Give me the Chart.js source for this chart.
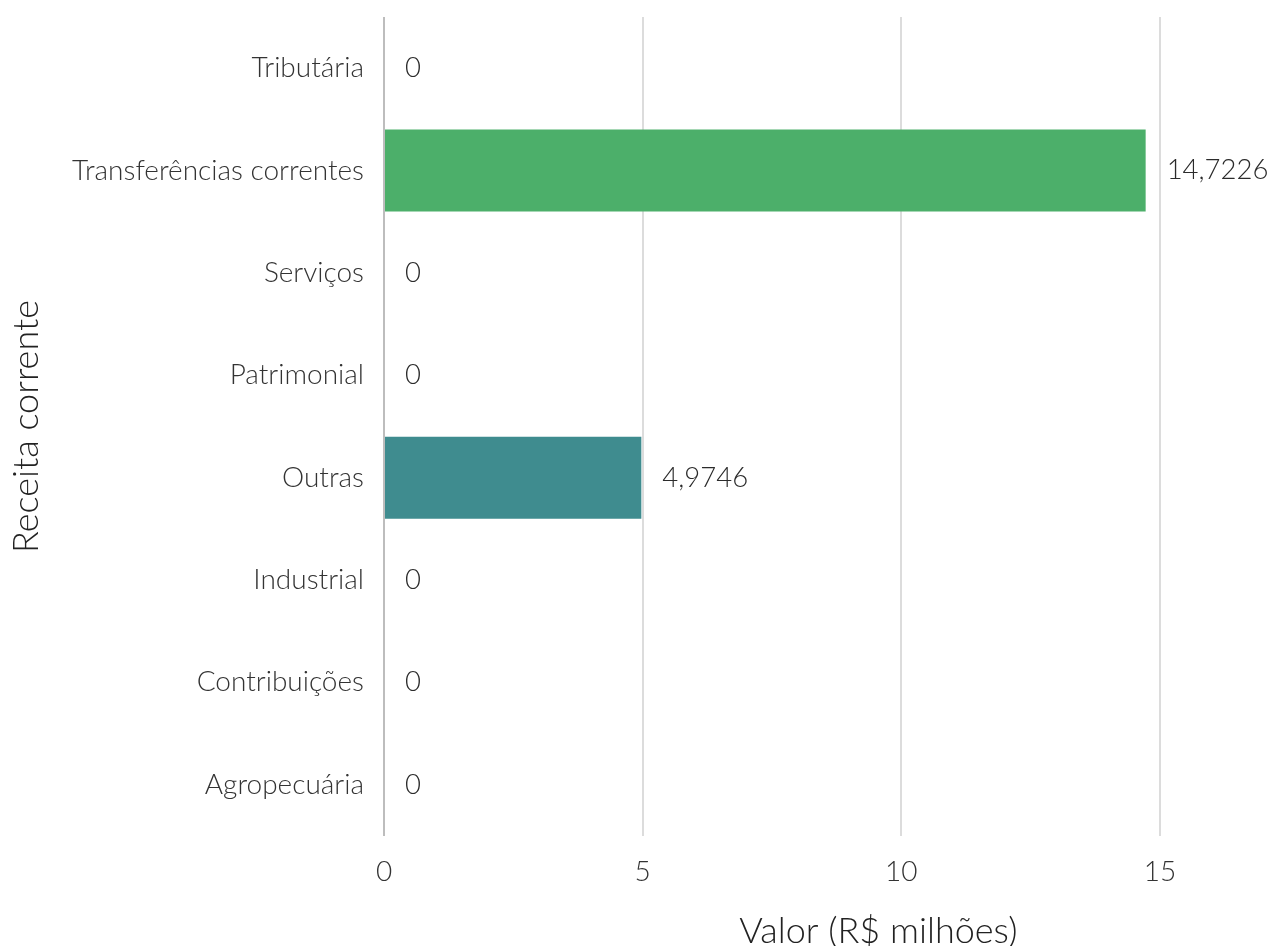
<!DOCTYPE html>
<html>
<head>
<meta charset="utf-8">
<script src="https://cdn.jsdelivr.net/npm/chart.js@4"></script>
<style>
  html, body { margin: 0; padding: 0; background: #fff; }
  #wrap { width: 1270px; height: 946px; }
</style>
</head>
<body>
<div id="wrap"><canvas id="myChart" width="1270" height="946"></canvas></div>
<script>
// categories, top to bottom
const categories = [
	"Tributária",
	"Transferências correntes",
	"Serviços",
	"Patrimonial",
	"Outras",
	"Industrial",
	"Contribuições",
	"Agropecuária"
];
const values = [0, 14.7226, 0, 0, 4.9746, 0, 0, 0];
const barColors = ["#9fda3a", "#4caf6a", "#1fa187", "#2c8a8a", "#3f8c8f", "#365c8d", "#46337e", "#440154"];
const xTicks = [0, 5, 10, 15];
const xTitle = "Valor (R$ milhões)";
const yTitle = "Receita corrente";

const FONT = "Lato";

function fmt(v) {
	return v === 0 ? "0" : String(v).replace(".", ",");
}

// value labels next to each bar
const valueLabels = {
	id: "valueLabels",
	afterDatasetsDraw(chart) {
		const ctx = chart.ctx;
		const meta = chart.getDatasetMeta(0);
		ctx.save();
		ctx.font = "300 27.5px " + FONT;
		ctx.fillStyle = "#2b2b2b";
		ctx.textBaseline = "middle";
		ctx.textAlign = "left";
		meta.data.forEach((bar, i) => {
			ctx.fillText(fmt(values[i]), bar.x + 21, bar.y);
		});
		ctx.restore();
	}
};

// x axis title sits off-centre in the reference
const xTitlePlugin = {
	id: "xTitlePlugin",
	afterDraw(chart) {
		const a = chart.chartArea;
		const ctx = chart.ctx;
		ctx.save();
		ctx.font = "300 36px " + FONT;
		ctx.fillStyle = "#222";
		ctx.textAlign = "center";
		ctx.textBaseline = "middle";
		ctx.fillText(xTitle, a.left + 0.637 * (a.right - a.left), a.bottom + 95);
		ctx.restore();
	}
};

new Chart(document.getElementById("myChart"), {
	type: "bar",
	data: {
		labels: categories,
		datasets: [{
			data: values,
			backgroundColor: barColors,
			borderWidth: 0,
			categoryPercentage: 1,
			barPercentage: 0.8
		}]
	},
	options: {
		indexAxis: "y",
		responsive: false,
		animation: false,
		devicePixelRatio: 1,
		layout: { padding: { top: 17, right: 110, bottom: 0, left: 0 } },
		plugins: {
			legend: { display: false },
			tooltip: { enabled: false }
		},
		scales: {
			x: {
				min: 0,
				max: 15,
				afterBuildTicks: (s) => { s.ticks = xTicks.map(v => ({ value: v })); },
				afterFit: (s) => { s.height = 110; s.paddingLeft = 0; s.paddingRight = 0; },
				border: { display: false },
				grid: {
					drawTicks: false,
					lineWidth: 2,
					color: (c) => (c.tick && c.tick.value === 0 ? "#bdbdbd" : "#dcdcdc")
				},
				ticks: {
					padding: 19,
					color: "#333",
					font: { family: FONT, size: 28, weight: 300 }
				}
			},
			y: {
				afterFit: (s) => { s.width = 384; s.paddingTop = 0; s.paddingBottom = 0; },
				border: { display: false },
				grid: { display: false, drawTicks: false },
				ticks: {
					padding: 20,
					color: "#333",
					font: { family: FONT, size: 28, weight: 300 }
				},
				title: {
					display: true,
					text: yTitle,
					color: "#222",
					padding: { top: 5, bottom: 0 },
					font: { family: FONT, size: 36, weight: 300 }
				}
			}
		}
	},
	plugins: [valueLabels, xTitlePlugin]
});
</script>
</body>
</html>
